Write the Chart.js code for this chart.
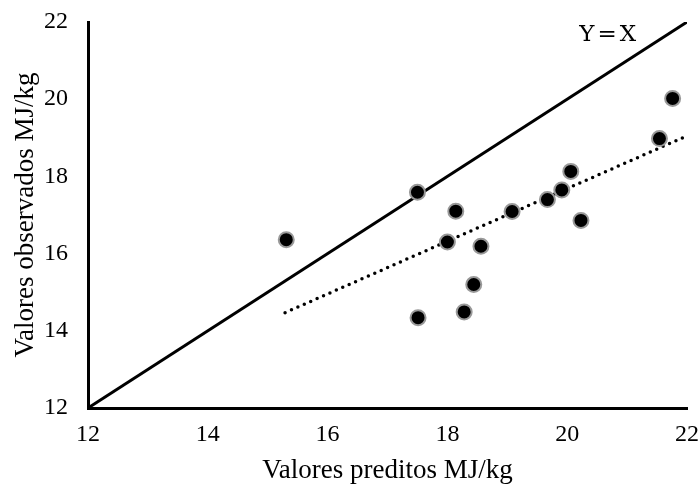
<!DOCTYPE html>
<html>
<head>
<meta charset="utf-8">
<script src="https://cdn.jsdelivr.net/npm/chart.js@4/dist/chart.umd.min.js"></script>
<style>
  html, body { margin: 0; padding: 0; background: #fff; }
  #wrap { width: 700px; height: 487px; }
</style>
</head>
<body>
<div id="wrap"><canvas id="c" width="700" height="487"></canvas></div>
<script>
/* ================================================
   DATA
================================================ */

const predicted = [15.31, 17.50, 17.51, 18.00, 18.14, 18.28, 18.44, 18.56, 19.08, 19.67, 19.91, 20.06, 20.23, 21.54, 21.76];
const observed  = [16.36, 17.59, 14.34, 16.30, 17.10, 14.49, 15.20, 16.19, 17.09, 17.40, 17.65, 18.13, 16.86, 18.98, 20.02];

/* Y = X reference line */
const refX = [12, 22];
const refY = [12, 22];

/* linear trend (dotted) */
const trendX = [15.29, 22.0];
const trendY = [14.47, 19.05];

const ticksXY = [12, 14, 16, 18, 20, 22];

const xTitle = 'Valores preditos MJ/kg';
const yTitle = 'Valores observados MJ/kg';
const refLabel = 'Y=X';

/* ================================================
   HELPERS
================================================ */

const pts = (xs, ys) => xs.map((x, i) => ({ x, y: ys[i] }));
const serif = 'Liberation Serif, Times New Roman, serif';

/* draws the "Y=X" label near the top of the reference line */
const refLabelPlugin = {
  id: 'refLabel',
  afterDatasetsDraw(chart) {
    const { ctx, scales } = chart;
    const px = scales.x.getPixelForValue(20.7);
    const py = scales.y.getPixelForValue(21.66);
    ctx.save();
    ctx.font = '23px "DejaVu Serif", serif';
    ctx.letterSpacing = '3px';
    ctx.fillStyle = '#000';
    ctx.textAlign = 'center';
    ctx.textBaseline = 'middle';
    ctx.fillText(refLabel, px, py);
    ctx.restore();
  }
};

/* ================================================
   CHART
================================================ */

const axis = (title, titlePad, fit) => ({
  type: 'linear',
  min: 12,
  max: 22,
  afterBuildTicks: s => { s.ticks = ticksXY.map(v => ({ value: v })); },
  afterFit: fit,
  grid:   { drawOnChartArea: false, drawTicks: false },
  border: { color: '#000', width: 3 },
  ticks:  { color: '#000', font: { family: serif, size: 24 }, padding: 0 },
  title:  { display: true, text: title, color: '#000',
            font: { family: serif, size: 27 }, padding: titlePad },
});

/* fixed sizes so the plot area lands where the original one is */
const xAxis = axis(xTitle, { top: 0, bottom: 0 }, s => {
  s.height = 79; s.paddingLeft = 0; s.paddingRight = 0;
});
xAxis.ticks.padding = 12;
const yAxis = axis(yTitle, { top: 10, bottom: 0 }, s => {
  s.width = 88; s.paddingTop = 0; s.paddingBottom = 0;
});
yAxis.ticks.padding = 20;

new Chart(document.getElementById('c').getContext('2d'), {
  type: 'scatter',
  data: {
    datasets: [
      {
        label: 'dados',
        data: pts(predicted, observed),
        backgroundColor: '#000',
        borderColor: '#999',
        borderWidth: 2,
        pointRadius: 7.5,
        pointHoverRadius: 7.5,
      },
      {
        label: 'Y = X',
        type: 'line',
        data: pts(refX, refY),
        borderColor: '#000',
        borderWidth: 3,
        pointRadius: 0,
        fill: false,
      },
      {
        label: 'tendência',
        type: 'line',
        data: pts(trendX, trendY),
        borderColor: '#000',
        borderWidth: 3.5,
        borderDash: [0, 7],
        borderCapStyle: 'round',
        pointRadius: 0,
        fill: false,
      },
    ],
  },
  options: {
    responsive: false,
    animation: false,
    devicePixelRatio: 1,
    layout: { padding: { top: 22, right: 13, left: 0, bottom: 0 } },
    plugins: {
      legend: { display: false },
      tooltip: { enabled: false },
    },
    scales: { x: xAxis, y: yAxis },
  },
  plugins: [refLabelPlugin],
});
</script>
</body>
</html>
